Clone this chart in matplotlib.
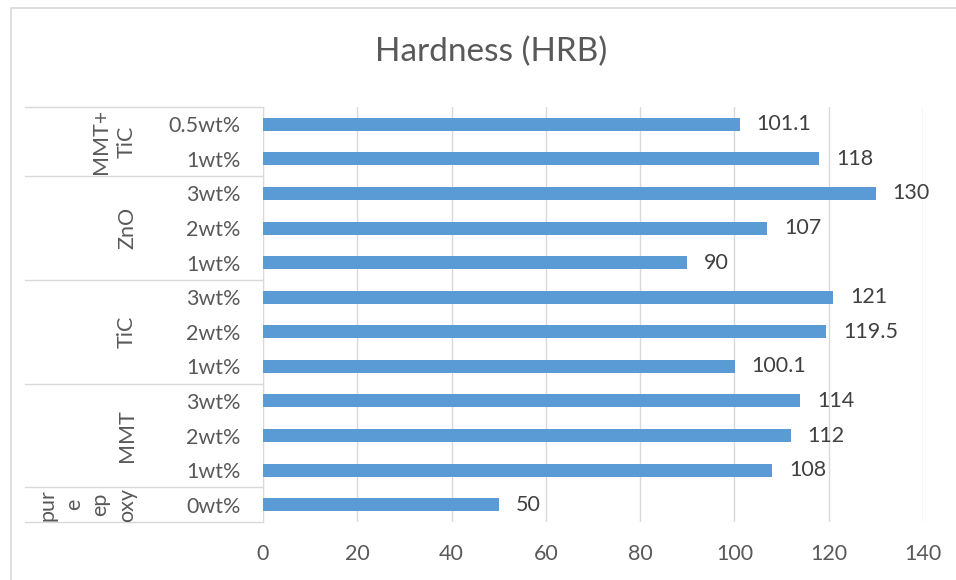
import matplotlib.pyplot as plt
import matplotlib.transforms as mtransforms
from matplotlib.patches import Rectangle

plt.rcParams['font.family'] = ['Lato', 'DejaVu Sans']

# groups from bottom to top of the chart
group_names = ["pur\ne\nep\noxy", "MMT", "TiC", "ZnO", "MMT+\nTiC"]
loadings = [["0wt%"],
            ["1wt%", "2wt%", "3wt%"],
            ["1wt%", "2wt%", "3wt%"],
            ["1wt%", "2wt%", "3wt%"],
            ["1wt%", "0.5wt%"]]
hardness = [[50],
            [108, 112, 114],
            [100.1, 119.5, 121],
            [90, 107, 130],
            [118, 101.1]]

# flatten
labels = [l for g in loadings for l in g]
values = [v for g in hardness for v in g]
ypos = list(range(len(values)))

fig = plt.figure(figsize=(9.56, 5.8), dpi=100)
ax = fig.add_axes([263 / 956, 1 - 522 / 580, 660 / 956, 415 / 580])

ax.barh(ypos, values, height=0.375, color='#5B9BD5', zorder=3)

for y, v in zip(ypos, values):
    ax.annotate(f'{v:g}', (v, y), xytext=(12, 0), textcoords='offset points',
                ha='left', va='center', fontsize=15.5, color='#404040')

ax.set_xlim(0, 140)
ax.set_xticks(range(0, 141, 20))
ax.set_ylim(-0.5, len(values) - 0.5)
ax.set_yticks(ypos)
ax.set_yticklabels(labels)
ax.tick_params(axis='y', length=0, pad=16, labelsize=15.5, labelcolor='#595959')
ax.tick_params(axis='x', length=0, pad=16, labelsize=15.5, labelcolor='#595959')
ax.grid(axis='x', color='#D9D9D9', lw=1, zorder=0)
for s in ['top', 'right', 'bottom']:
    ax.spines[s].set_visible(False)
ax.spines['left'].set_color('#D9D9D9')

# category group boxes
trans = mtransforms.blended_transform_factory(ax.transAxes, ax.transData)
start = -0.5
ax.plot([-0.3606, 0], [start, start], transform=trans, color='#D9D9D9', lw=1, clip_on=False)
for name, g in zip(group_names, loadings):
    end = start + len(g)
    ax.plot([-0.3606, 0], [end, end], transform=trans, color='#D9D9D9', lw=1, clip_on=False)
    ax.text(-0.191, (start + end) / 2, name, transform=trans, rotation=90,
            ha='right', va='center', multialignment='center', linespacing=1.4,
            fontsize=15.5, color='#595959')
    start = end

fig.text(491.5 / 956, 1 - 52 / 580, 'Hardness (HRB)', ha='center', va='center',
         fontsize=24, color='#595959')

# chart border
fig.patches.append(Rectangle((11 / 956, -0.05), 1.0, 1 - 8 / 580 + 0.05,
                             transform=fig.transFigure, fill=False,
                             edgecolor='#D9D9D9', lw=1.2))

fig.savefig('out.png', dpi=100)
